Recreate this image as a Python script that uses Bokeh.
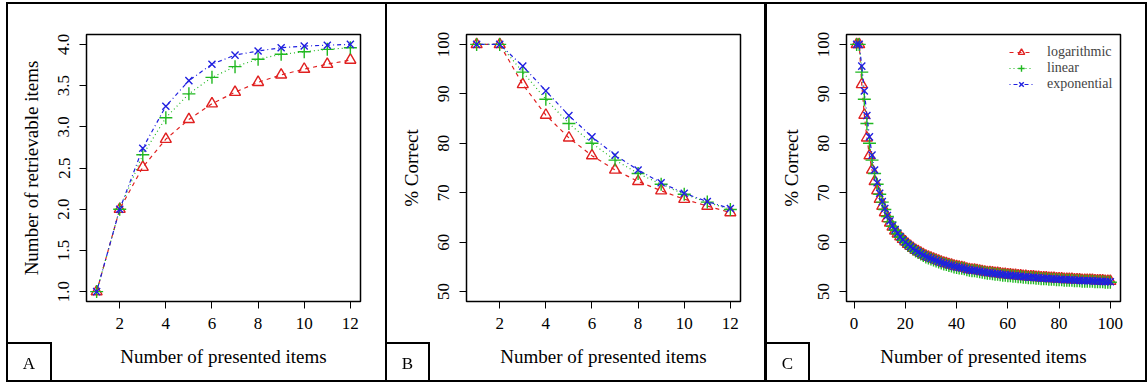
from bokeh.plotting import figure
from bokeh.models import (FixedTicker, Range1d, Legend, LegendItem, Spacer,
                          Div, InlineStyleSheet)
from bokeh.layouts import row, column
from bokeh.embed import file_html
from bokeh.resources import INLINE

# ---------------- data ----------------
presented_ab = [1, 2, 3, 4, 5, 6, 7, 8, 9, 10, 11, 12]

# Panel A: number of retrievable items
retr_log = [1.0, 2.0, 2.51, 2.85, 3.09, 3.28, 3.42, 3.54, 3.63, 3.70, 3.76, 3.81]
retr_lin = [1.0, 2.0, 2.66, 3.11, 3.40, 3.60, 3.73, 3.82, 3.88, 3.91, 3.94, 3.96]
retr_exp = [1.0, 2.0, 2.74, 3.25, 3.56, 3.76, 3.87, 3.92, 3.96, 3.98, 3.99, 4.0]

# Panel B: % correct
pc_log = [100, 100, 91.9, 85.7, 81.1, 77.5, 74.6, 72.3, 70.4, 68.7, 67.3, 66.0]
pc_lin = [100, 100, 94.4, 88.9, 84.0, 80.0, 76.6, 73.9, 71.7, 69.7, 68.1, 66.6]
pc_exp = [100, 100, 95.6, 90.6, 85.6, 81.3, 77.6, 74.6, 72.0, 69.9, 68.2, 66.8]

# Panel C: % correct, 1..100 presented items
presented_c = list(range(1, 101))
pc100_log = pc_log + [
    64.8, 63.9, 63.1, 62.3, 61.7, 61.1, 60.6, 60.1,
    59.6, 59.2, 58.8, 58.4, 58.1, 57.8, 57.5, 57.2, 57.0, 56.8,
    56.6, 56.4, 56.2, 56.0, 55.8, 55.7, 55.5, 55.4, 55.2, 55.1,
    55.0, 54.9, 54.8, 54.6, 54.5, 54.4, 54.4, 54.3, 54.2, 54.1,
    54.0, 53.9, 53.9, 53.8, 53.7, 53.7, 53.6, 53.5, 53.5, 53.4,
    53.4, 53.3, 53.3, 53.2, 53.2, 53.1, 53.1, 53.0, 53.0, 53.0,
    52.9, 52.9, 52.8, 52.8, 52.8, 52.7, 52.7, 52.7, 52.6, 52.6,
    52.6, 52.5, 52.5, 52.5, 52.5, 52.4, 52.4, 52.4, 52.3, 52.3,
    52.3, 52.3, 52.3, 52.2, 52.2, 52.2, 52.2, 52.1, 52.1, 52.1]
pc100_lin = pc_lin + [
    65.2, 64.1, 63.2, 62.4, 61.7, 61.0, 60.4, 59.9,
    59.4, 59.0, 58.6, 58.2, 57.9, 57.6, 57.3, 57.0, 56.8, 56.6,
    56.4, 56.2, 56.0, 55.8, 55.6, 55.5, 55.3, 55.2, 55.0, 54.9,
    54.8, 54.7, 54.6, 54.4, 54.3, 54.2, 54.2, 54.1, 54.0, 53.9,
    53.8, 53.7, 53.7, 53.6, 53.5, 53.5, 53.4, 53.3, 53.3, 53.2,
    53.2, 53.1, 53.1, 53.0, 53.0, 52.9, 52.9, 52.8, 52.8, 52.8,
    52.7, 52.7, 52.6, 52.6, 52.6, 52.5, 52.5, 52.5, 52.4, 52.4,
    52.4, 52.3, 52.3, 52.3, 52.3, 52.2, 52.2, 52.2, 52.1, 52.1,
    52.1, 52.1, 52.1, 52.0, 52.0, 52.0, 52.0, 51.9, 51.9, 51.9]
pc100_exp = pc_exp + [
    65.4, 64.3, 63.3, 62.5, 61.8, 61.1, 60.5, 60.0,
    59.5, 59.1, 58.7, 58.3, 58.0, 57.7, 57.4, 57.1, 56.9, 56.7,
    56.5, 56.3, 56.1, 55.9, 55.7, 55.6, 55.4, 55.3, 55.1, 55.0,
    54.9, 54.8, 54.7, 54.5, 54.4, 54.3, 54.3, 54.2, 54.1, 54.0,
    53.9, 53.8, 53.8, 53.7, 53.6, 53.6, 53.5, 53.4, 53.4, 53.3,
    53.3, 53.2, 53.2, 53.1, 53.1, 53.0, 53.0, 52.9, 52.9, 52.9,
    52.8, 52.8, 52.7, 52.7, 52.7, 52.6, 52.6, 52.6, 52.5, 52.5,
    52.5, 52.4, 52.4, 52.4, 52.4, 52.3, 52.3, 52.3, 52.2, 52.2,
    52.2, 52.2, 52.2, 52.1, 52.1, 52.1, 52.1, 52.0, 52.0, 52.0]

series_names = ["logarithmic", "linear", "exponential"]
x_ticks_ab = [2, 4, 6, 8, 10, 12]
x_ticks_c = [0, 20, 40, 60, 80, 100]
y_ticks_a = [1.0, 1.5, 2.0, 2.5, 3.0, 3.5, 4.0]
y_ticks_pc = [50, 60, 70, 80, 90, 100]
panel_letters = ["A", "B", "C"]

# ---------------- style ----------------
FONT = "Liberation Serif"
COLORS = ["#e02020", "#20b820", "#2020e0"]
DASHES = ["4 4", "1 3", "1 3 4 3"]
FW, FH = 274, 267
BL, BR, BT, BB = 80, 26, 31, 80


def make_panel(xs, ys_list, x_range, y_range, xticks, yticks, ylabel,
               legend=False):
    p = figure(width=BL + FW + BR, height=BT + FH + BB,
               frame_width=FW, frame_height=FH,
               min_border_left=BL, min_border_right=BR,
               min_border_top=BT, min_border_bottom=BB,
               x_range=Range1d(*x_range), y_range=Range1d(*y_range),
               output_backend="svg", toolbar_location=None)
    p.grid.visible = False
    p.outline_line_color = "black"
    p.outline_line_width = 1.5
    p.background_fill_color = "white"
    p.border_fill_color = "white"

    for ax in (p.xaxis[0], p.yaxis[0]):
        ax.axis_line_color = "black"
        ax.major_tick_line_color = "black"
        ax.major_tick_out = 7
        ax.major_tick_in = 0
        ax.minor_tick_line_color = None
        ax.major_label_text_font = FONT
        ax.major_label_text_font_size = "17px"
        ax.major_label_text_color = "black"
        ax.axis_label_text_font = FONT
        ax.axis_label_text_font_size = "19px"
        ax.axis_label_text_font_style = "normal"
        ax.axis_label_text_color = "black"
    p.xaxis.ticker = FixedTicker(ticks=xticks)
    p.yaxis.ticker = FixedTicker(ticks=yticks)
    p.xaxis.major_label_standoff = 9
    p.xaxis.axis_label_standoff = 14
    p.yaxis.major_label_standoff = 10
    p.yaxis.axis_label_standoff = 14
    p.yaxis.major_label_orientation = "vertical"
    p.xaxis.axis_label = "Number of presented items"
    p.yaxis.axis_label = ylabel
    if yticks == y_ticks_a:
        p.yaxis.major_label_overrides = {v: f"{v:.1f}" for v in yticks}

    items = []
    for i, ys in enumerate(ys_list):
        ln = p.line(xs, ys, line_color=COLORS[i], line_dash=DASHES[i],
                    line_width=1.2)
        if i == 0:
            mk = p.scatter(xs, ys, marker="triangle", size=11,
                           line_color=COLORS[i], fill_color=None,
                           line_width=1.4)
        elif i == 1:
            mk = p.scatter(xs, ys, marker="cross", size=13,
                           line_color=COLORS[i], line_width=1.4)
        else:
            mk = p.scatter(xs, ys, marker="x", size=10,
                           line_color=COLORS[i], line_width=1.4)
        items.append(LegendItem(label=series_names[i], renderers=[ln, mk]))

    if legend:
        lg = Legend(items=items, location=(163, 209))
        lg.label_text_font = FONT
        lg.label_text_font_size = "14px"
        lg.border_line_color = None
        lg.background_fill_alpha = 0
        lg.padding = 4
        lg.margin = 0
        lg.spacing = 0
        lg.label_height = 16
        lg.glyph_height = 16
        lg.glyph_width = 24
        lg.label_standoff = 14
        p.add_layout(lg)
    return p


pA = make_panel(presented_ab, [retr_log, retr_lin, retr_exp],
                (0.56, 12.44), (0.88, 4.12), x_ticks_ab, y_ticks_a,
                "Number of retrievable items")
pB = make_panel(presented_ab, [pc_log, pc_lin, pc_exp],
                (0.56, 12.44), (48, 102), x_ticks_ab, y_ticks_pc, "% Correct")
pC = make_panel(presented_c, [pc100_log, pc100_lin, pc100_exp],
                (-2.96, 103.96), (48, 102), x_ticks_c, y_ticks_pc,
                "% Correct", legend=True)

# ------------- panel frames and letter boxes (overlay) -------------
panel_lefts = [6, 385, 765]
panel_widths = [381, 381, 382]
box_widths = [46, 45, 45]
parts = []
for L, W, BW, letter in zip(panel_lefts, panel_widths, box_widths,
                            panel_letters):
    parts.append(
        f'<div style="position:absolute;left:{L}px;top:2px;width:{W}px;'
        f'height:380px;border:2px solid black;box-sizing:border-box;"></div>')
    parts.append(
        f'<div style="position:absolute;left:{L}px;top:342px;width:{BW}px;'
        f'height:40px;border:2px solid black;box-sizing:border-box;'
        f'display:flex;align-items:center;justify-content:center;'
        f'font-family:\'{FONT}\';font-size:17px;color:black;'
        f'line-height:1;padding-top:3px;">{letter}</div>')
overlay_css = InlineStyleSheet(css=(
    ":host{position:fixed !important;left:0 !important;top:0 !important;"
    "width:1148px !important;height:383px !important;z-index:100;"
    "pointer-events:none;margin:0 !important;padding:0 !important;}"))
overlay = Div(text="".join(parts), width=1148, height=383,
              stylesheets=[overlay_css])

layout = column(Spacer(height=3),
                row(Spacer(width=6), pA, pB, pC),
                overlay)

open("out.html", "w").write(file_html(layout, INLINE))
